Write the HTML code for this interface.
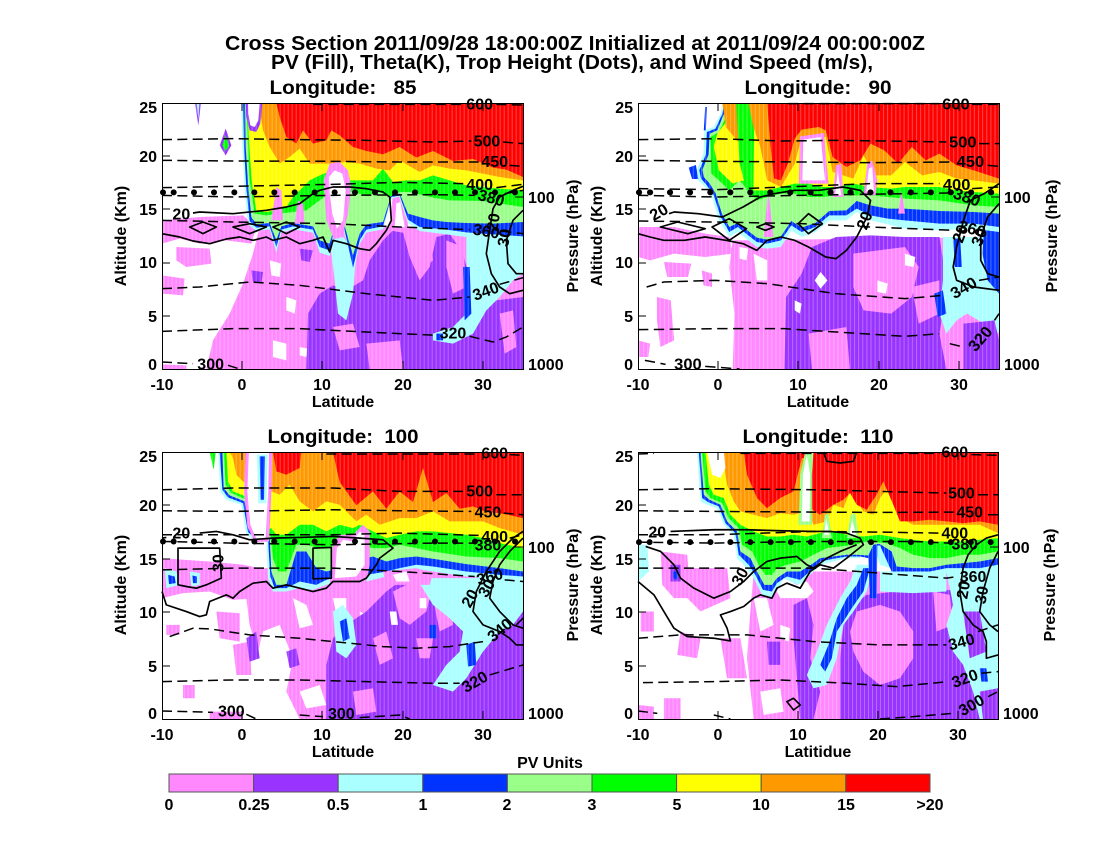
<!DOCTYPE html>
<html><head><meta charset="utf-8"><style>html,body{margin:0;padding:0;background:#fff}svg{display:block}</style></head>
<body>
<svg xmlns="http://www.w3.org/2000/svg" width="1100" height="850" viewBox="0 0 1100 850" font-family="'Liberation Sans', Arial, sans-serif" font-weight="bold">
<rect width="1100" height="850" fill="#fff"/>
<defs>
<pattern id="st" patternUnits="userSpaceOnUse" width="12" height="12"><rect x="0" y="0" width="3" height="12" fill="#fff" fill-opacity="0.28"/></pattern>
<style>
.pk{fill:#ff88ff}.pu{fill:#9933ff}.cy{fill:#aaffff}.bl{fill:#0033ff}.lg{fill:#99ff88}.gr{fill:#00ff00}.ye{fill:#ffff00}.or{fill:#ff9900}.re{fill:#ff0000}.wh{fill:#ffffff}
.th{fill:none;stroke:#000;stroke-width:4.5;stroke-dasharray:30 16}
.ws{fill:none;stroke:#000;stroke-width:5;stroke-linejoin:round}
.cl{font-size:48px;fill:#000;text-anchor:middle}
</style>
</defs>

<!-- Titles -->
<text x="575" y="50" font-size="20" text-anchor="middle" textLength="700" lengthAdjust="spacingAndGlyphs">Cross Section 2011/09/28 18:00:00Z Initialized at 2011/09/24 00:00:00Z</text>
<text x="572" y="69" font-size="20" text-anchor="middle" textLength="602" lengthAdjust="spacingAndGlyphs">PV (Fill), Theta(K), Trop Height (Dots), and Wind Speed (m/s),</text>
<text x="343" y="94" font-size="19" text-anchor="middle" textLength="147" lengthAdjust="spacingAndGlyphs" xml:space="preserve">Longitude:   85</text>
<text x="818" y="94" font-size="19" text-anchor="middle" textLength="147" lengthAdjust="spacingAndGlyphs" xml:space="preserve">Longitude:   90</text>
<text x="343" y="443" font-size="19" text-anchor="middle" textLength="151" lengthAdjust="spacingAndGlyphs" xml:space="preserve">Longitude:  100</text>
<text x="818" y="443" font-size="19" text-anchor="middle" textLength="151" lengthAdjust="spacingAndGlyphs" xml:space="preserve">Longitude:  110</text>

<!-- ================= PANEL 1 ================= -->
<svg x="162" y="103" width="361" height="266" viewBox="187 68 1083 798" preserveAspectRatio="none" overflow="visible">
<path class="pk" d="M480,440 L1270,440 L1270,866 L320,866 L340,780 L390,700 L430,610 L460,520 Z M187,420 L300,410 L430,405 L470,440 L455,490 L380,480 L300,490 L240,475 L187,490 Z M230,500 L330,505 L335,550 L260,560 L230,540 Z M187,585 L255,595 L250,645 L187,640 Z M187,852 L260,855 L260,866 L187,866 Z"/>
<path class="wh" d="M520,780 L560,790 L560,840 L520,830 Z M600,800 L625,805 L620,830 L600,825 Z M510,540 L545,550 L540,590 L515,585 Z M560,650 L590,660 L585,700 L560,690 Z"/>
<path class="pu" d="M620,866 L625,700 L660,640 L700,615 L740,630 L790,600 L810,540 L850,480 L880,450 L910,455 L930,530 L960,600 L990,560 L1010,470 L1050,460 L1090,520 L1110,600 L1150,650 L1190,660 L1270,650 L1270,866 Z M455,570 L490,575 L485,610 L460,605 Z M600,505 L640,510 L630,545 L605,540 Z"/>
<path class="pk" d="M800,790 L900,780 L910,866 L810,866 Z M930,450 L990,450 L1000,540 L960,570 Z M1040,480 L1090,500 L1100,620 L1060,640 L1040,560 Z M700,740 L760,730 L780,800 L720,810 Z M1200,700 L1240,690 L1250,800 L1215,820 Z"/>
<path class="cy" d="M1100,470 L1270,470 L1270,580 L1240,600 L1200,650 L1160,690 L1120,760 L1060,790 L1000,780 L1000,760 L1060,740 L1100,700 L1110,620 L1100,540 Z M690,480 L730,470 L770,520 L760,640 L740,720 L715,700 L705,600 Z"/>
<path class="bl" d="M1090,560 L1110,560 L1115,700 L1095,720 Z M1010,760 L1030,760 L1030,780 L1010,780 Z"/>
<path class="cy" d="M425,68 L1270,68 L1270,480 L1180,475 L1100,470 L1040,462 L960,452 L925,428 L900,352 L875,357 L850,447 L800,457 L780,492 L760,582 L730,437 L705,457 L690,527 L660,517 L640,457 L580,447 L545,457 L530,517 L510,447 L470,452 L445,432 L435,330 L428,200 Z"/>
<path class="bl" d="M430,68 L1270,68 L1270,468 L1180,462 L1100,456 L1040,448 L960,440 L925,418 L900,346 L875,350 L850,438 L800,448 L780,480 L760,562 L730,428 L705,446 L690,510 L660,500 L640,448 L580,438 L545,448 L530,500 L510,438 L470,442 L450,422 L440,322 L433,200 Z"/>
<path class="lg" d="M436,68 L1270,68 L1270,425 L1180,430 L1100,428 L1040,425 L1000,420 L960,410 L925,400 L900,340 L875,344 L850,425 L800,432 L780,460 L760,525 L730,420 L705,435 L690,490 L660,480 L640,438 L580,428 L545,438 L530,480 L510,428 L470,432 L455,410 L445,310 L438,200 Z"/>
<path class="gr" d="M440,68 L1270,68 L1270,380 L1150,362 L1050,360 L1000,352 L960,342 L930,335 L900,335 L870,350 L840,335 L800,345 L760,335 L700,330 L660,360 L620,390 L580,395 L540,400 L500,405 L465,400 L450,300 L445,200 Z"/>
<path class="ye" d="M444,68 L1270,68 L1270,330 L1200,325 L1150,320 L1100,315 L1050,300 L1000,285 L960,300 L920,300 L880,305 L850,265 L820,300 L780,300 L740,300 L700,270 L660,285 L630,300 L600,330 L580,350 L560,380 L530,390 L500,395 L470,392 L456,300 L449,200 Z"/>
<path class="or" d="M478,68 L1270,68 L1270,300 L1200,290 L1150,280 L1100,270 L1050,265 L1000,255 L960,275 L900,240 L870,270 L830,265 L780,250 L740,245 L700,250 L660,250 L630,250 L600,205 L570,230 L540,250 L510,200 L490,150 L482,100 Z"/>
<path class="re" d="M530,68 L1270,68 L1270,290 L1220,268 L1180,262 L1120,236 L1060,242 L1000,212 L950,232 L900,200 L850,222 L800,212 L760,200 L720,165 L695,150 L680,180 L640,190 L610,150 L590,190 L560,170 L540,110 Z"/>
<path class="pk" d="M672,300 L690,250 L720,245 L745,270 L755,320 L745,400 L730,460 L700,470 L680,420 Z M870,450 L878,355 L898,348 L925,430 L925,460 Z M515,420 L530,320 L545,330 L550,420 Z M585,430 L595,360 L610,370 L615,430 Z"/>
<path class="wh" d="M688,290 L705,270 L728,280 L738,330 L730,420 L712,445 L698,400 L690,340 Z M885,440 L890,370 L902,365 L915,440 Z"/>
<path class="pu" d="M438,68 L488,68 L482,130 L470,155 L450,150 L440,110 Z M360,195 L378,145 L395,195 L378,225 Z M286,68 L304,68 L296,135 Z"/>
<path class="wh" d="M445,68 L480,68 L476,120 L465,140 L452,135 L446,100 Z"/>
<path class="gr" d="M368,195 L378,165 L388,195 L378,212 Z"/>
<path class="cy" d="M291,68 L299,68 L296,120 Z"/>
<rect x="187" y="68" width="1083" height="798" fill="url(#st)"/>
<!-- theta -->
<path class="th" d="M640,72 L1090,72 M1190,72 L1270,74 M187,178 L400,175 L600,178 L800,180 L1000,185 L1115,182 M1210,185 L1270,190 M187,240 L400,242 L700,243 L900,245 L1140,245 M1230,255 L1270,258 M187,322 L400,318 L700,312 L900,306 L1095,310 M1190,322 L1270,312 M187,345 L400,350 L700,345 L1000,343 L1125,345 M1215,340 L1270,330 M187,420 L400,425 L700,430 L900,440 L1110,448 M1205,452 L1270,460 M187,625 L300,620 L450,605 L600,615 L800,640 L1000,660 L1110,650 M1200,612 L1270,592 M187,753 L400,745 L600,745 L800,755 L1010,765 M1110,768 L1180,785 L1220,770 L1270,740 M187,845 L280,850 M385,855 L420,866"/>
<text class="cl" x="1140" y="70" dy=".35em">600</text>
<text class="cl" x="1162" y="182" dy=".35em">500</text>
<text class="cl" x="1185" y="243" dy=".35em">450</text>
<text class="cl" x="1140" y="312" dy=".35em">400</text>
<text class="cl" transform="translate(1175,352) rotate(15)" dy=".35em">380</text>
<text class="cl" transform="translate(1160,452) rotate(10)" dy=".35em">360</text>
<text class="cl" transform="translate(1158,632) rotate(-20)" dy=".35em">340</text>
<text class="cl" x="1060" y="757" dy=".35em">320</text>
<text class="cl" x="333" y="850" dy=".35em">300</text>
<!-- wind -->
<path class="ws" d="M187,460 L240,470 L280,482 L330,490 L380,476 L420,470 L460,480 L500,470 L520,480 L560,470 L600,490 L640,480 L670,470 L690,515 L700,480 L740,490 L780,505 L810,510 L830,490 L860,450 L875,420 L870,350 L850,335 L800,325 L750,320 L700,320 L660,330 L640,340 L600,370 L560,380 L500,390 L400,400 L300,395 L280,398 M270,440 L310,425 L350,440 L310,460 Z M400,440 L450,430 L500,440 L450,460 Z M520,440 L560,425 L600,440 L560,460 Z M1270,318 L1240,330 L1200,350 L1180,385 L1170,450 L1160,520 L1175,580 L1200,620 L1230,640 L1270,630 M1270,390 L1240,420 L1220,480 L1225,550 L1250,580 L1270,580"/>
<text class="cl" x="245" y="400" dy=".35em">20</text>
<text class="cl" transform="translate(1180,425) rotate(-80)" dy=".35em">20</text>
<text class="cl" transform="translate(1213,472) rotate(-80)" dy=".35em">30</text>
<g fill="#000"><circle cx="190" cy="336" r="9"/><circle cx="222" cy="336" r="9"/><circle cx="283" cy="336" r="9"/><circle cx="343" cy="336" r="9"/><circle cx="404" cy="336" r="9"/><circle cx="464" cy="336" r="9"/><circle cx="524" cy="336" r="9"/><circle cx="585" cy="336" r="9"/><circle cx="645" cy="336" r="9"/><circle cx="705" cy="336" r="9"/><circle cx="766" cy="336" r="9"/><circle cx="826" cy="336" r="9"/><circle cx="886" cy="336" r="9"/><circle cx="946" cy="336" r="9"/><circle cx="1006" cy="336" r="9"/><circle cx="1066" cy="336" r="9"/><circle cx="1126" cy="336" r="9"/><circle cx="1186" cy="336" r="9"/><circle cx="1246" cy="336" r="9"/></g>
</svg>

<!-- ================= PANEL 2 ================= -->
<svg x="638" y="103" width="361" height="266" viewBox="225 68 1048 798" preserveAspectRatio="none" overflow="visible">
<path class="pk" d="M500,480 L1273,470 L1273,866 L500,866 L505,700 L490,560 Z M225,440 L330,440 L420,460 L490,470 L500,520 L420,530 L330,520 L260,540 L225,530 Z M280,650 L320,660 L330,780 L290,800 L280,720 Z M225,780 L260,790 L255,830 L225,830 Z M300,545 L380,550 L370,590 L310,590 Z M410,570 L440,580 L440,620 L415,615 Z"/>
<path class="wh" d="M560,520 L600,540 L600,600 L570,600 Z M520,500 L545,505 L540,540 L520,535 Z"/>
<path class="pu" d="M650,866 L655,650 L700,580 L730,500 L800,470 L900,465 L1000,470 L1100,470 L1120,600 L1110,700 L1100,760 L1120,866 Z"/>
<path class="pk" d="M720,760 L830,740 L840,866 L730,866 Z M850,520 L1000,500 L1040,560 L1020,650 L960,700 L880,690 L850,620 Z M1020,620 L1100,600 L1100,700 L1040,730 Z"/>
<path class="wh" d="M755,575 L775,600 L755,625 L738,600 Z M920,600 L950,610 L945,640 L920,635 Z M1000,520 L1030,530 L1025,560 L1000,555 Z M680,660 L700,670 L695,700 L680,690 Z"/>
<path class="cy" d="M1110,470 L1273,470 L1273,760 L1230,730 L1180,700 L1150,720 L1120,760 L1100,700 L1110,600 Z"/>
<path class="bl" d="M1230,440 L1273,440 L1273,640 L1240,600 L1225,520 Z M1085,640 L1110,630 L1120,700 L1095,710 Z M1140,480 L1160,470 L1165,560 L1145,560 Z"/>
<path class="pu" d="M1170,730 L1260,720 L1273,780 L1273,866 L1170,866 Z"/>
<path class="cy" d="M470,68 L1273,68 L1273,455 L1200,445 L1100,450 L1000,445 L950,432 L900,420 L860,395 L830,420 L780,420 L740,455 L700,470 L670,450 L640,500 L600,505 L570,500 L545,480 L515,455 L490,470 L460,420 L440,350 L420,320 L400,300 L395,270 L415,220 L418,150 L445,140 L465,100 Z"/>
<path class="bl" d="M475,68 L1273,68 L1273,440 L1200,430 L1100,430 L1000,420 L950,415 L900,405 L860,385 L830,405 L780,405 L740,440 L700,455 L670,435 L640,480 L600,490 L570,485 L545,465 L515,440 L490,455 L465,410 L445,345 L425,315 L408,295 L403,270 L422,222 L425,155 L450,145 L470,100 Z"/>
<path class="lg" d="M480,68 L1273,68 L1273,400 L1200,395 L1100,392 L1000,385 L950,385 L900,375 L860,362 L830,390 L780,392 L740,428 L700,442 L670,422 L640,468 L600,478 L570,472 L545,452 L515,428 L490,440 L468,398 L450,338 L432,308 L416,290 L412,268 L430,222 L433,160 L455,150 L475,100 Z"/>
<path class="gr" d="M485,68 L1273,68 L1273,380 L1200,375 L1100,360 L1000,355 L950,350 L900,345 L850,345 L800,345 L760,350 L720,350 L680,340 L640,340 L600,350 L570,360 L545,330 L520,300 L490,330 L460,300 L438,280 L435,170 L460,155 L480,110 Z"/>
<path class="ye" d="M490,68 L1273,68 L1273,340 L1200,335 L1150,330 L1100,320 L1050,320 L1000,320 L960,325 L900,320 L850,310 L800,320 L760,320 L720,310 L680,310 L640,320 L600,330 L560,330 L530,300 L500,310 L460,270 L445,200 L455,160 L485,120 Z"/>
<path class="or" d="M470,68 L1273,68 L1273,310 L1200,300 L1150,295 L1100,275 L1050,285 L1000,245 L960,285 L910,285 L880,225 L850,295 L790,275 L770,170 L700,170 L680,250 L640,320 L600,300 L580,200 L560,140 L520,190 L480,140 Z"/>
<path class="re" d="M600,68 L1273,68 L1273,295 L1200,270 L1150,255 L1100,220 L1060,240 L1020,200 L980,250 L940,210 L900,190 L870,240 L830,260 L790,230 L770,150 L750,140 L700,148 L680,175 L660,250 L640,300 L620,295 L610,200 Z"/>
<path class="gr" d="M510,68 L545,68 L562,150 L560,330 L540,330 L520,250 Z"/>
<path class="pk" d="M692,310 L695,168 L765,158 L778,310 Z M880,345 L890,250 L905,240 L920,300 L915,345 Z M590,470 L603,330 L618,470 Z M790,350 L800,255 L815,250 L822,350 Z M980,400 L990,330 L1000,400 Z"/>
<path class="wh" d="M702,300 L705,178 L755,170 L768,300 Z M888,335 L895,265 L905,260 L910,335 Z M797,345 L805,270 L815,345 Z"/>
<path class="bl" d="M416,150 L420,80 L425,80 L422,150 Z M372,262 L393,254 L400,296 L382,296 Z"/>
<rect x="225" y="68" width="1048" height="798" fill="url(#st)"/>
<path class="th" d="M660,70 L1100,70 M1195,72 L1273,72 M225,178 L450,175 L640,182 L800,180 L1000,183 L1120,185 M1215,190 L1273,190 M225,240 L450,243 L700,245 L900,247 L1140,245 M1240,255 L1273,258 M225,325 L450,328 L700,318 L900,310 L1100,310 M1195,325 L1273,320 M225,345 L450,350 L700,345 L1000,340 L1130,338 M225,422 L450,425 L700,430 L900,440 L1140,450 M250,620 L300,605 L450,600 L600,610 L800,640 L1000,655 L1110,645 M1215,600 L1273,590 M225,748 L450,745 L650,745 L800,755 L1000,768 L1100,760 M1130,790 L1170,800 M1260,720 L1273,700 M245,840 L305,852 M420,858 L520,866"/>
<text class="cl" x="1148" y="70" dy=".35em">600</text>
<text class="cl" x="1168" y="185" dy=".35em">500</text>
<text class="cl" x="1190" y="243" dy=".35em">450</text>
<text class="cl" x="1150" y="312" dy=".35em">400</text>
<text class="cl" transform="translate(1180,350) rotate(20)" dy=".35em">380</text>
<text class="cl" transform="translate(1195,445) rotate(15)" dy=".35em">360</text>
<text class="cl" transform="translate(1170,622) rotate(-30)" dy=".35em">340</text>
<text class="cl" transform="translate(1218,775) rotate(-50)" dy=".35em">320</text>
<text class="cl" x="370" y="850" dy=".35em">300</text>
<path class="ws" d="M225,460 L260,470 L300,480 L360,480 L420,470 L480,480 L530,490 L570,510 L600,480 L640,470 L680,480 L720,500 L770,530 L800,535 L830,510 L860,470 L890,410 L900,360 L870,330 L820,320 L750,330 L680,330 L620,340 L580,350 L530,380 L470,410 L400,400 L330,395 L315,400 M290,440 L340,425 L420,445 L370,460 Z M440,440 L490,415 L540,445 L490,480 Z M570,440 L595,430 L620,440 L595,450 Z M690,430 L720,400 L760,430 L720,460 Z M1273,310 L1230,340 L1190,360 L1170,420 L1150,500 L1140,560 L1150,600 L1200,620 L1273,630 M1273,370 L1240,410 L1220,470 L1220,540 L1240,580 L1273,590"/>
<text class="cl" transform="translate(285,395) rotate(-30)" dy=".35em">20</text>
<text class="cl" transform="translate(882,420) rotate(-70)" dy=".35em">20</text>
<text class="cl" transform="translate(1160,460) rotate(-70)" dy=".35em">20</text>
<text class="cl" transform="translate(1215,470) rotate(-70)" dy=".35em">30</text>
<g fill="#000"><circle cx="228" cy="336" r="9"/><circle cx="260" cy="336" r="9"/><circle cx="318" cy="336" r="9"/><circle cx="376" cy="336" r="9"/><circle cx="435" cy="336" r="9"/><circle cx="493" cy="336" r="9"/><circle cx="551" cy="336" r="9"/><circle cx="609" cy="336" r="9"/><circle cx="667" cy="336" r="9"/><circle cx="726" cy="336" r="9"/><circle cx="784" cy="336" r="9"/><circle cx="842" cy="336" r="9"/><circle cx="900" cy="336" r="9"/><circle cx="958" cy="336" r="9"/><circle cx="1017" cy="336" r="9"/><circle cx="1075" cy="336" r="9"/><circle cx="1133" cy="336" r="9"/><circle cx="1192" cy="336" r="9"/><circle cx="1250" cy="336" r="9"/></g>
</svg>

<!-- ================= PANEL 3 ================= -->
<svg x="162" y="452" width="361" height="267" viewBox="187 82 1083 800" preserveAspectRatio="none" overflow="visible">
<path class="pk" d="M187,400 L250,405 L330,410 L430,420 L480,430 L470,520 L400,525 L330,500 L250,505 L187,520 Z M470,430 L1270,430 L1270,882 L560,882 L520,800 L480,700 L450,600 L440,520 Z M350,560 L420,565 L420,650 L360,640 Z M400,660 L450,650 L455,750 L410,750 Z M250,780 L285,780 L285,820 L250,820 Z M330,860 L430,860 L430,882 L330,882 Z M200,600 L240,600 L240,630 L200,630 Z"/>
<path class="wh" d="M490,620 L540,600 L580,700 L560,800 L600,882 L470,882 L470,700 Z M580,520 L620,540 L640,600 L600,610 Z M700,520 L740,520 L740,560 L710,570 Z M780,560 L820,580 L830,640 L790,650 Z M600,800 L660,780 L680,840 L620,850 Z"/>
<path class="pu" d="M680,882 L680,720 L700,640 L740,600 L800,560 L860,500 L900,470 L1000,470 L1100,480 L1150,520 L1270,520 L1270,882 Z M560,680 L590,670 L600,720 L570,730 Z M440,640 L470,620 L480,700 L450,710 Z"/>
<path class="pk" d="M880,500 L960,460 L1000,480 L980,560 L930,600 L900,580 Z M820,640 L860,620 L880,700 L840,720 Z M1000,520 L1050,520 L1060,600 L1020,620 Z M760,800 L820,790 L830,860 L770,870 Z M950,640 L1000,640 L990,700 L960,700 Z"/>
<path class="wh" d="M870,560 L890,560 L895,600 L875,600 Z M960,520 L980,520 L980,550 L960,550 Z"/>
<path class="cy" d="M950,460 L1270,460 L1270,560 L1240,600 L1200,620 L1150,680 L1100,760 L1060,800 L1000,780 L1040,720 L1080,680 L1090,620 L1050,580 L1000,540 Z M700,560 L730,540 L760,580 L770,660 L740,700 L710,680 Z M195,430 L230,440 L240,480 L200,490 Z M270,440 L300,445 L300,480 L275,485 Z"/>
<path class="bl" d="M720,590 L740,580 L750,640 L730,650 Z M1100,660 L1125,650 L1130,720 L1105,725 Z M990,600 L1010,600 L1010,640 L990,640 Z M205,450 L225,455 L228,475 L208,478 Z M278,452 L292,455 L292,475 L280,475 Z"/>
<path class="cy" d="M355,82 L1270,82 L1270,470 L1200,465 L1100,455 L1000,440 L950,432 L900,440 L860,455 L800,470 L760,450 L720,470 L680,480 L640,495 L600,490 L560,500 L520,500 L505,460 L500,350 L470,350 L440,330 L425,240 L380,225 L362,200 Z"/>
<path class="bl" d="M360,82 L1270,82 L1270,455 L1200,450 L1100,440 L1000,425 L950,420 L900,430 L860,440 L800,450 L760,420 L720,455 L680,465 L650,480 L600,470 L560,490 L525,490 L512,455 L505,345 L472,343 L445,322 L430,235 L385,218 L368,195 Z"/>
<path class="lg" d="M368,82 L1270,82 L1270,440 L1200,430 L1100,418 L1000,402 L950,395 L900,400 L860,410 L820,395 L800,400 L780,380 L760,400 L720,430 L680,440 L650,430 L620,380 L590,380 L560,480 L530,480 L515,440 L510,340 L475,336 L450,315 L435,230 L390,212 L372,190 Z"/>
<path class="gr" d="M372,82 L1270,82 L1270,410 L1200,400 L1100,395 L1000,380 L950,370 L900,360 L860,370 L820,370 L780,360 L740,360 L700,365 L660,370 L620,360 L590,360 L560,440 L535,440 L520,400 L512,330 L478,330 L455,305 L440,225 L395,205 L378,180 Z"/>
<path class="ye" d="M380,82 L1270,82 L1270,370 L1200,355 L1150,340 L1100,330 L1000,320 L950,320 L900,330 L860,340 L820,320 L780,300 L760,310 L720,300 L680,320 L640,300 L600,300 L560,330 L530,330 L515,310 L480,320 L460,300 L450,220 L400,200 L385,170 Z"/>
<path class="or" d="M390,82 L1270,82 L1270,330 L1200,310 L1150,290 L1100,290 L1050,290 L1000,260 L950,280 L900,280 L840,300 L800,270 L770,290 L720,240 L680,230 L640,260 L600,230 L570,180 L540,210 L515,200 L505,150 L470,260 L440,180 L410,150 L400,100 Z"/>
<path class="re" d="M520,82 L605,82 L600,130 L560,150 L530,140 Z M700,82 L1270,82 L1270,280 L1200,265 L1160,262 L1120,245 L1080,252 L1040,205 L1000,232 L970,130 L940,232 L900,200 L860,252 L820,200 L770,242 L720,172 Z"/>
<path class="pk" d="M438,82 L518,82 L515,210 L508,350 L465,352 L443,305 L433,200 Z M690,480 L700,360 L720,330 L760,330 L790,300 L810,320 L810,420 L800,470 L740,470 Z M850,440 L950,430 L1000,445 L990,480 L860,480 Z"/>
<path class="wh" d="M448,82 L508,82 L505,210 L498,340 L470,342 L452,300 L443,200 Z M705,460 L712,370 L730,345 L760,350 L780,320 L795,330 L795,420 L770,455 Z M880,450 L920,440 L930,470 L890,470 Z"/>
<path class="cy" d="M472,90 L504,90 L500,235 L476,235 Z"/>
<path class="bl" d="M480,95 L496,95 L493,225 L483,225 Z"/>
<path class="gr" d="M330,82 L348,82 L342,135 Z"/>
<rect x="187" y="82" width="1083" height="800" fill="url(#st)"/>
<path class="th" d="M680,88 L1140,88 M1230,90 L1270,92 M187,195 L400,190 L700,190 L900,200 L1090,200 M1190,210 L1270,210 M187,258 L400,260 L700,255 L900,258 L1115,260 M1212,265 L1270,270 M187,330 L400,330 L700,330 L900,325 L1140,332 M1230,340 L1270,330 M187,350 L400,355 L700,360 L1000,355 L1120,355 M187,435 L400,430 L700,430 L900,440 L1125,455 M1215,465 L1270,470 M210,635 L280,610 L330,612 L450,630 L600,640 L700,650 L850,665 L950,670 L1050,665 L1150,650 M1250,600 L1270,580 M187,770 L400,765 L600,765 L800,770 L1000,775 L1080,775 M1170,750 L1270,720 M187,858 L340,862 M440,868 L470,882 M600,870 L670,875 M780,878 L900,870 L930,882"/>
<text class="cl" x="1185" y="85" dy=".35em">600</text>
<text class="cl" x="1140" y="198" dy=".35em">500</text>
<text class="cl" x="1165" y="262" dy=".35em">450</text>
<text class="cl" x="1185" y="335" dy=".35em">400</text>
<text class="cl" x="1165" y="360" dy=".35em">380</text>
<text class="cl" transform="translate(1170,455) rotate(-15)" dy=".35em">360</text>
<text class="cl" transform="translate(1200,615) rotate(-40)" dy=".35em">340</text>
<text class="cl" transform="translate(1125,770) rotate(-30)" dy=".35em">320</text>
<text class="cl" x="395" y="858" dy=".35em">300</text>
<text class="cl" x="725" y="865" dy=".35em">300</text>
<path class="ws" d="M300,325 L350,320 L400,330 L450,345 L520,340 L600,338 L700,335 L780,340 L850,345 L880,370 L840,400 L830,420 L800,460 L780,470 L740,470 L700,470 L680,490 L640,500 L600,490 L560,480 L520,490 L500,470 L460,475 L420,500 L400,520 L380,510 L330,530 L320,570 L300,575 L260,560 L200,540 L187,500 M187,340 L200,338 M235,370 L360,370 L365,460 L320,480 L290,490 L260,485 L235,480 Z M640,370 L695,368 L695,460 L640,462 Z M1270,320 L1240,340 L1200,380 L1160,440 L1130,500 L1120,560 L1150,600 L1200,620 L1230,640 L1250,660 L1270,660 M1270,340 L1230,380 L1200,420 L1180,470 L1170,520 L1200,560 L1240,600 L1270,610"/>
<text class="cl" x="245" y="325" dy=".35em">20</text>
<text class="cl" transform="translate(355,415) rotate(-90)" dy=".35em">30</text>
<text class="cl" transform="translate(1110,520) rotate(-60)" dy=".35em">20</text>
<text class="cl" transform="translate(1160,490) rotate(-60)" dy=".35em">30</text>
<g fill="#000"><circle cx="190" cy="350" r="9"/><circle cx="222" cy="350" r="9"/><circle cx="283" cy="350" r="9"/><circle cx="343" cy="350" r="9"/><circle cx="404" cy="350" r="9"/><circle cx="464" cy="350" r="9"/><circle cx="524" cy="350" r="9"/><circle cx="585" cy="350" r="9"/><circle cx="645" cy="350" r="9"/><circle cx="705" cy="350" r="9"/><circle cx="766" cy="350" r="9"/><circle cx="826" cy="350" r="9"/><circle cx="886" cy="350" r="9"/><circle cx="946" cy="350" r="9"/><circle cx="1006" cy="350" r="9"/><circle cx="1066" cy="350" r="9"/><circle cx="1126" cy="350" r="9"/><circle cx="1186" cy="350" r="9"/><circle cx="1246" cy="350" r="9"/></g>
</svg>

<!-- ================= PANEL 4 ================= -->
<svg x="638" y="452" width="360" height="267" viewBox="172 82 1083 800" preserveAspectRatio="none" overflow="visible">
<path class="pk" d="M520,440 L1255,440 L1255,882 L520,882 L500,700 L510,560 Z M240,380 L320,390 L330,520 L280,520 L245,480 Z M310,430 L440,430 L450,520 L360,560 L320,520 Z M180,560 L220,560 L220,620 L180,620 Z M300,620 L360,640 L350,700 L290,690 Z M420,640 L480,640 L500,760 L440,760 Z M250,820 L300,820 L300,882 L250,882 Z M172,840 L220,845 L220,882 L172,882 Z"/>
<path class="wh" d="M520,520 L560,520 L580,600 L540,620 Z M540,800 L600,790 L610,860 L550,870 Z M600,600 L630,610 L625,650 L600,640 Z"/>
<path class="pu" d="M780,882 L780,700 L790,600 L820,540 L860,510 L950,500 L1050,490 L1150,500 L1255,520 L1255,882 Z M640,540 L680,520 L700,600 L690,700 L720,800 L700,882 L660,882 L650,760 L640,640 Z M560,650 L600,650 L600,720 L565,720 Z M270,420 L300,420 L300,470 L270,470 Z"/>
<path class="pk" d="M830,560 L900,540 L960,560 L1000,620 L1000,700 L960,760 L900,780 L850,740 L820,680 L810,620 Z M1060,500 L1110,510 L1120,600 L1070,620 Z"/>
<path class="cy" d="M830,420 L880,420 L860,500 L820,560 L790,600 L770,700 L740,780 L700,790 L680,750 L710,680 L740,600 L780,520 L810,470 Z M1100,440 L1255,430 L1255,882 L1200,882 L1180,800 L1150,720 L1120,680 L1100,600 L1120,540 Z M172,360 L200,360 L205,440 L172,470 Z M900,440 L1100,440 L1100,500 L1000,505 L900,500 Z"/>
<path class="bl" d="M850,430 L870,430 L850,500 L815,550 L790,590 L770,620 L755,700 L735,740 L720,720 L745,660 L770,580 L800,520 L830,480 Z M278,440 L292,440 L290,465 L278,460 Z M1200,730 L1220,730 L1225,770 L1205,770 Z"/>
<path class="pu" d="M1150,560 L1200,560 L1220,680 L1170,700 Z M1200,800 L1255,790 L1255,882 L1210,882 Z"/>
<path class="cy" d="M350,82 L1255,82 L1255,440 L1200,445 L1100,445 L1000,440 L950,435 L900,420 L880,360 L860,360 L840,400 L800,400 L760,410 L720,420 L700,440 L660,480 L620,470 L590,490 L575,520 L545,510 L520,460 L500,430 L470,400 L460,330 L430,300 L410,250 L380,240 L360,230 Z"/>
<path class="bl" d="M355,82 L1255,82 L1255,420 L1200,430 L1100,430 L1050,440 L1000,440 L950,440 L935,440 L900,362 L892,362 L890,520 L870,520 L865,400 L840,395 L800,395 L760,402 L720,410 L700,430 L660,465 L620,455 L590,475 L575,500 L548,495 L525,450 L505,420 L475,390 L465,325 L435,295 L415,245 L383,232 L365,220 Z"/>
<path class="lg" d="M360,82 L1255,82 L1255,400 L1200,410 L1100,420 L1050,430 L1000,430 L950,425 L935,380 L900,358 L892,358 L880,360 L865,392 L830,390 L800,390 L760,395 L720,400 L700,415 L660,440 L620,440 L590,460 L575,480 L552,480 L530,440 L510,400 L480,380 L470,320 L440,290 L420,240 L387,225 L370,210 Z"/>
<path class="gr" d="M365,82 L1255,82 L1255,380 L1200,390 L1150,390 L1100,400 L1050,400 L1000,390 L960,370 L920,355 L860,350 L820,360 L780,365 L740,370 L700,390 L660,410 L620,420 L590,430 L575,450 L555,450 L535,420 L515,380 L485,360 L475,310 L445,280 L425,235 L390,220 L375,200 Z"/>
<path class="ye" d="M375,82 L1255,82 L1255,340 L1200,345 L1150,350 L1100,350 L1050,350 L1000,345 L960,340 L900,330 L850,335 L800,330 L760,320 L720,325 L680,335 L640,330 L600,335 L560,335 L520,320 L480,300 L450,270 L430,220 L400,210 L385,180 Z"/>
<path class="or" d="M420,82 L1255,82 L1255,325 L1200,300 L1150,300 L1100,300 L1050,300 L1000,300 L960,280 L930,180 L900,220 L880,270 L850,260 L830,230 L810,200 L790,250 L760,240 L740,290 L700,300 L680,260 L640,270 L600,265 L560,280 L520,270 L480,260 L460,230 L440,180 L430,120 Z"/>
<path class="re" d="M490,82 L1255,82 L1255,300 L1200,290 L1150,295 L1100,290 L1050,285 L1000,290 L960,290 L940,240 L910,170 L890,210 L860,255 L830,240 L810,205 L790,225 L760,240 L720,270 L690,250 L680,100 L665,100 L640,200 L600,220 L560,250 L530,220 L500,150 Z"/>
<path class="lg" d="M655,300 L660,150 L675,82 L700,82 L695,150 L695,300 Z M725,340 L735,270 L745,265 L755,340 Z M800,340 L812,270 L825,265 L838,340 Z"/>
<path class="wh" d="M665,290 L668,150 L680,90 L690,150 L688,290 Z M732,330 L738,280 L748,330 Z M808,330 L816,285 L828,330 Z M380,82 L430,82 L435,130 L420,160 L395,150 Z M590,500 L610,460 L650,480 L680,470 L700,500 L680,520 L600,520 Z"/>
<rect x="172" y="82" width="1083" height="800" fill="url(#st)"/>
<path class="th" d="M172,88 L220,86 M480,86 L1080,86 M1175,90 L1255,92 M172,195 L400,192 L700,195 L900,200 L1100,205 M1195,210 L1255,210 M172,258 L400,260 L700,262 L900,263 L1125,262 M1225,270 L1255,270 M172,330 L400,330 L700,320 L900,322 L1080,325 M172,352 L400,355 L700,350 L1000,350 L1110,355 M172,430 L400,430 L700,430 L900,445 L1100,460 L1135,455 M172,640 L300,630 L500,630 L700,650 L900,660 L1100,660 M1195,620 L1255,600 M187,773 L400,770 L600,765 L800,775 L950,785 L1105,770 M1205,745 L1255,740 M172,858 L230,865 M400,870 L450,882 M900,882 L1000,875 L1120,865 M1225,815 L1255,800"/>
<text class="cl" x="1125" y="82" dy=".35em">600</text>
<text class="cl" x="1145" y="205" dy=".35em">500</text>
<text class="cl" x="1170" y="262" dy=".35em">450</text>
<text class="cl" x="1125" y="325" dy=".35em">400</text>
<text class="cl" x="1155" y="357" dy=".35em">380</text>
<text class="cl" x="1180" y="455" dy=".35em">360</text>
<text class="cl" transform="translate(1145,650) rotate(-15)" dy=".35em">340</text>
<text class="cl" transform="translate(1155,760) rotate(-20)" dy=".35em">320</text>
<text class="cl" transform="translate(1175,840) rotate(-30)" dy=".35em">300</text>
<path class="ws" d="M172,470 L220,510 L250,560 L280,610 L320,635 L400,640 L450,648 L440,610 L420,570 L450,560 L490,545 L520,520 L540,510 L575,520 L590,490 L620,475 L660,490 L690,440 L720,420 L760,430 L800,400 L850,360 L840,340 L800,325 L750,320 L700,320 L600,318 L500,315 L400,315 L270,320 M195,365 L240,380 L280,420 L300,460 L340,490 L400,520 L450,500 L490,470 L520,440 L560,410 L600,400 L650,395 L680,420 L700,430 L740,400 L780,380 L830,360 M730,82 L740,110 L780,115 L820,110 L830,82 M620,830 L640,820 L660,840 L640,855 Z M1255,330 L1220,340 L1190,360 L1165,390 L1150,430 L1140,500 L1150,560 L1180,600 L1210,620 L1220,650 L1220,700 L1255,690 M1255,380 L1230,430 L1210,500 L1200,560 L1230,600 L1255,620"/>
<text class="cl" x="230" y="322" dy=".35em">20</text>
<text class="cl" transform="translate(478,455) rotate(-60)" dy=".35em">30</text>
<text class="cl" transform="translate(1150,495) rotate(-80)" dy=".35em">20</text>
<text class="cl" transform="translate(1205,510) rotate(-80)" dy=".35em">30</text>
<g fill="#000"><circle cx="175" cy="352" r="9"/><circle cx="207" cy="352" r="9"/><circle cx="268" cy="352" r="9"/><circle cx="329" cy="352" r="9"/><circle cx="390" cy="352" r="9"/><circle cx="450" cy="352" r="9"/><circle cx="510" cy="352" r="9"/><circle cx="571" cy="352" r="9"/><circle cx="632" cy="352" r="9"/><circle cx="692" cy="352" r="9"/><circle cx="752" cy="352" r="9"/><circle cx="812" cy="352" r="9"/><circle cx="873" cy="352" r="9"/><circle cx="933" cy="352" r="9"/><circle cx="993" cy="352" r="9"/><circle cx="1053" cy="352" r="9"/><circle cx="1113" cy="352" r="9"/><circle cx="1173" cy="352" r="9"/><circle cx="1233" cy="352" r="9"/></g>
</svg>

<!-- ================= FRAMES & TICKS ================= -->
<g fill="none" stroke="#000" stroke-width="1">
<rect x="162.5" y="103.5" width="361" height="266"/>
<rect x="638.5" y="103.5" width="361" height="266"/>
<rect x="162.5" y="452.5" width="361" height="267"/>
<rect x="638.5" y="452.5" width="360" height="267"/>
<path d="M242,369 v-8 M322,369 v-8 M403,369 v-8 M483,369 v-8 M242,103 v8 M322,103 v8 M403,103 v8 M483,103 v8 M162,316 h8 M162,263 h8 M162,209 h8 M162,156 h8 M523,197 h-8"/>
<path d="M718,369 v-8 M798,369 v-8 M879,369 v-8 M959,369 v-8 M718,103 v8 M798,103 v8 M879,103 v8 M959,103 v8 M638,316 h8 M638,263 h8 M638,209 h8 M638,156 h8 M999,197 h-8"/>
<path d="M242,719 v-8 M322,719 v-8 M403,719 v-8 M483,719 v-8 M242,452 v8 M322,452 v8 M403,452 v8 M483,452 v8 M162,666 h8 M162,612 h8 M162,559 h8 M162,505 h8 M523,547 h-8"/>
<path d="M718,719 v-8 M798,719 v-8 M878,719 v-8 M958,719 v-8 M718,452 v8 M798,452 v8 M878,452 v8 M958,452 v8 M638,666 h8 M638,612 h8 M638,559 h8 M638,505 h8 M998,547 h-8"/>
</g>

<!-- ================= AXIS LABELS ================= -->
<g font-size="16" fill="#000">
<g text-anchor="end">
<text x="157" y="113">25</text><text x="157" y="162">20</text><text x="157" y="215">15</text><text x="157" y="268">10</text><text x="157" y="322">5</text><text x="157" y="370">0</text>
<text x="633" y="113">25</text><text x="633" y="162">20</text><text x="633" y="215">15</text><text x="633" y="268">10</text><text x="633" y="322">5</text><text x="633" y="370">0</text>
<text x="157" y="462">25</text><text x="157" y="511">20</text><text x="157" y="565">15</text><text x="157" y="618">10</text><text x="157" y="672">5</text><text x="157" y="719">0</text>
<text x="633" y="462">25</text><text x="633" y="511">20</text><text x="633" y="565">15</text><text x="633" y="618">10</text><text x="633" y="672">5</text><text x="633" y="719">0</text>
</g>
<g text-anchor="middle">
<text x="162" y="390">-10</text><text x="242" y="390">0</text><text x="322" y="390">10</text><text x="403" y="390">20</text><text x="483" y="390">30</text>
<text x="638" y="390">-10</text><text x="718" y="390">0</text><text x="798" y="390">10</text><text x="879" y="390">20</text><text x="959" y="390">30</text>
<text x="162" y="740">-10</text><text x="242" y="740">0</text><text x="322" y="740">10</text><text x="403" y="740">20</text><text x="483" y="740">30</text>
<text x="638" y="740">-10</text><text x="718" y="740">0</text><text x="798" y="740">10</text><text x="878" y="740">20</text><text x="958" y="740">30</text>
<text x="343" y="407">Latitude</text>
<text x="818" y="407">Latitude</text>
<text x="343" y="757">Latitude</text>
<text x="818" y="757">Latitidue</text>
<text transform="translate(126,236) rotate(-90)">Altitude (Km)</text>
<text transform="translate(578,236) rotate(-90)">Pressure (hPa)</text>
<text transform="translate(602,236) rotate(-90)">Altitude (Km)</text>
<text transform="translate(1057,236) rotate(-90)">Pressure (hPa)</text>
<text transform="translate(126,585) rotate(-90)">Altitude (Km)</text>
<text transform="translate(578,585) rotate(-90)">Pressure (hPa)</text>
<text transform="translate(602,585) rotate(-90)">Altitude (Km)</text>
<text transform="translate(1055,585) rotate(-90)">Pressure (hPa)</text>
</g>
<g text-anchor="start">
<text x="528" y="203">100</text><text x="528" y="370">1000</text>
<text x="1004" y="203">100</text><text x="1004" y="370">1000</text>
<text x="528" y="553">100</text><text x="528" y="719">1000</text>
<text x="1003" y="553">100</text><text x="1003" y="719">1000</text>
</g>
</g>

<!-- ================= COLORBAR ================= -->
<text x="550" y="768" font-size="16" text-anchor="middle">PV Units</text>
<g stroke="#555" stroke-width="1">
<rect x="169" y="774" width="84.6" height="18" fill="#ff88ff"/>
<rect x="253.6" y="774" width="84.6" height="18" fill="#9933ff"/>
<rect x="338.2" y="774" width="84.6" height="18" fill="#aaffff"/>
<rect x="422.8" y="774" width="84.6" height="18" fill="#0033ff"/>
<rect x="507.4" y="774" width="84.6" height="18" fill="#99ff88"/>
<rect x="592" y="774" width="84.6" height="18" fill="#00ff00"/>
<rect x="676.6" y="774" width="84.6" height="18" fill="#ffff00"/>
<rect x="761.2" y="774" width="84.6" height="18" fill="#ff9900"/>
<rect x="845.8" y="774" width="84.2" height="18" fill="#ff0000"/>
</g>
<g font-size="16" text-anchor="middle">
<text x="169" y="810">0</text><text x="254" y="810">0.25</text><text x="338" y="810">0.5</text><text x="423" y="810">1</text><text x="507" y="810">2</text><text x="592" y="810">3</text><text x="677" y="810">5</text><text x="761" y="810">10</text><text x="846" y="810">15</text><text x="930" y="810">&gt;20</text>
</g>
</svg>
</body></html>
